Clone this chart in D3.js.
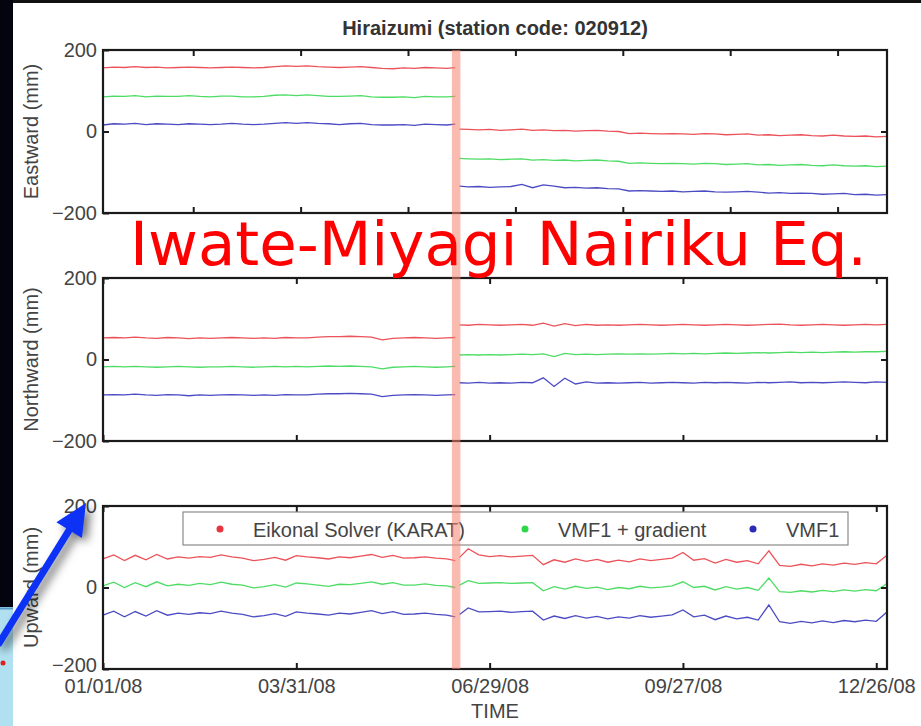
<!DOCTYPE html>
<html>
<head>
<meta charset="utf-8">
<script src="https://cdn.jsdelivr.net/npm/d3@7"></script>
<style>
  body { margin: 0; background: #fff; }
  svg text { font-family: "Liberation Sans", Arial, Helvetica, sans-serif; }
</style>
</head>
<body>
<script>
"use strict";

// sample days, counted from 01/01/08; null values at day 165 break the lines at the quake
var days = [0,5,10,15,20,25,30,35,40,45,50,55,60,65,70,75,80,85,90,95,100,105,110,115,120,125,130,135,140,145,150,155,160,164,
    165,
    166,170,175,180,185,190,195,200,205,210,215,220,225,230,235,240,245,250,255,260,265,270,275,280,285,290,295,300,305,310,315,320,325,330,335,340,345,350,355,360,365];

var eastKarat = [156,158,157,159,157,158,156,157,158,157,156,157,158,157,156,157,159,161,160,161,159,158,157,158,159,157,155,154,156,155,157,156,155,157,
    null,
    6,5,4,5,3,4,6,3,4,2,3,1,2,3,1,0,-5,-4,-5,-6,-5,-6,-7,-5,-6,-8,-7,-6,-9,-8,-10,-9,-8,-10,-11,-9,-11,-12,-11,-13,-12];
var eastGrad = [85,87,86,88,85,87,86,86,88,86,85,87,87,85,85,86,89,90,88,90,88,86,86,87,88,85,84,84,85,83,86,85,85,86,
    null,
    -66,-67,-68,-67,-69,-68,-67,-70,-69,-71,-70,-72,-71,-70,-72,-73,-78,-77,-78,-79,-78,-79,-80,-78,-79,-81,-80,-79,-82,-81,-83,-82,-81,-83,-84,-82,-84,-85,-84,-86,-85];
var eastVmf1 = [16,19,18,20,17,19,18,17,19,18,17,18,20,18,17,18,20,22,20,22,20,19,17,19,20,17,16,16,17,15,18,17,16,18,
    null,
    -134,-136,-135,-137,-136,-135,-130,-138,-131,-134,-138,-137,-139,-138,-140,-141,-146,-145,-146,-147,-146,-148,-147,-146,-148,-149,-148,-147,-149,-151,-150,-152,-151,-152,-154,-153,-152,-155,-154,-156,-155];

var northKarat = [53,54,53,55,53,52,54,53,51,53,52,53,54,53,52,53,52,54,53,53,55,56,56,57,56,55,48,52,53,54,53,52,53,54,
    null,
    85,84,86,85,84,85,86,84,89,82,88,83,86,84,85,84,85,86,85,84,85,86,85,84,85,86,85,84,85,86,87,85,84,85,86,85,84,85,86,85,86];
var northGrad = [-18,-17,-18,-17,-18,-19,-18,-17,-18,-19,-18,-18,-17,-18,-19,-18,-17,-18,-17,-18,-17,-16,-17,-16,-17,-18,-23,-19,-18,-17,-18,-19,-18,-17,
    null,
    11,12,11,12,11,12,13,12,14,7,15,12,13,12,13,14,13,14,13,14,15,14,15,14,15,16,15,16,17,16,17,18,17,18,17,18,19,18,19,19,20];
var northVmf1 = [-87,-86,-87,-85,-87,-88,-86,-87,-89,-87,-88,-87,-86,-87,-88,-87,-88,-86,-87,-87,-85,-84,-84,-83,-84,-85,-91,-88,-87,-86,-87,-88,-87,-86,
    null,
    -57,-58,-56,-58,-57,-58,-56,-57,-45,-66,-46,-60,-55,-58,-57,-58,-57,-56,-58,-57,-56,-57,-58,-56,-57,-56,-57,-58,-56,-57,-56,-55,-57,-56,-57,-56,-55,-56,-57,-55,-56];

var upKarat = [70,80,66,79,68,81,70,75,72,76,74,80,75,72,66,69,74,67,78,75,73,70,75,73,77,81,74,79,72,73,75,72,70,66,
    null,
    74,95,80,76,78,75,77,79,56,68,62,70,64,69,62,67,63,70,66,69,72,86,67,71,60,69,62,66,58,90,54,52,57,53,58,55,60,57,61,58,79];
var upGrad = [4,13,0,12,2,14,4,8,5,10,7,13,8,6,-1,2,7,1,11,9,6,3,8,7,10,14,8,12,6,6,9,5,4,0,
    null,
    6,17,10,11,12,10,11,12,-8,2,-4,3,-2,1,-5,0,-3,3,-1,1,4,14,0,3,-6,2,-4,0,-7,23,-10,-12,-8,-11,-7,-10,-6,-9,-5,-8,10];
var upVmf1 = [-68,-58,-72,-59,-70,-57,-68,-63,-66,-62,-64,-58,-63,-66,-72,-69,-64,-71,-60,-63,-65,-68,-63,-65,-61,-57,-64,-59,-66,-65,-63,-66,-68,-72,
    null,
    -66,-50,-60,-59,-58,-61,-59,-58,-80,-70,-76,-69,-75,-71,-77,-72,-75,-69,-73,-70,-67,-55,-72,-68,-79,-70,-77,-73,-80,-43,-84,-88,-83,-87,-82,-86,-81,-84,-80,-83,-60];

var seriesNames = ["Eikonal Solver (KARAT)", "VMF1 + gradient", "VMF1"];
var seriesColors = ["#e8343c", "#2fd64a", "#2b2bb8"];
var panelLabels = ["Eastward (mm)", "Northward (mm)", "Upward (mm)"];
var yTicks = [-200, 0, 200];
var xTickLabels = ["01/01/08", "03/31/08", "06/29/08", "09/27/08", "12/26/08"];
var eastTickDays = [42, 92, 142, 192, 242, 292, 342];
var startDate = "01/01/08", endDate = "12/31/08", quakeDate = "06/14/08";
var chartTitle = "Hiraizumi (station code: 020912)";
var quakeName = "Iwate-Miyagi Nairiku Eq.";

var W = 921, H = 726;
var left = 103, right = 887, panelH = 163;
var panelTops = [50, 278, 506];

var parseDate = d3.utcParse("%m/%d/%y");
var start = parseDate(startDate);
var dayToDate = function(d) { return d3.utcDay.offset(start, d); };

var x = d3.scaleUtc().domain([start, parseDate(endDate)]).range([left, right]);

var svg = d3.select("body").append("svg")
    .attr("width", W)
    .attr("height", H);

var defs = svg.append("defs");
var shadow = defs.append("filter").attr("id", "shadow")
    .attr("x", "-50%").attr("y", "-50%").attr("width", "200%").attr("height", "200%");
shadow.append("feDropShadow")
    .attr("dx", 5).attr("dy", 4).attr("stdDeviation", 5)
    .attr("flood-color", "#000").attr("flood-opacity", 0.55);

svg.append("rect").attr("width", W).attr("height", H).attr("fill", "#fff");

// slide background peeking in on the left edge
svg.append("rect").attr("x", 0).attr("y", 0).attr("width", W).attr("height", 3).attr("fill", "#111");
svg.append("rect").attr("x", 0).attr("y", 0).attr("width", 13).attr("height", 607).attr("fill", "#03040e");
svg.append("rect").attr("x", 0).attr("y", 607).attr("width", 13).attr("height", H - 607).attr("fill", "#b1e1f1");
svg.append("line").attr("x1", 0).attr("x2", 13).attr("y1", 608.5).attr("y2", 608.5)
    .attr("stroke", "#5a9cc8").attr("stroke-width", 2);
svg.append("circle").attr("cx", 3).attr("cy", 663).attr("r", 2.5).attr("fill", "#e02020");

var panels = [
    {label: panelLabels[0], series: [eastKarat, eastGrad, eastVmf1], ticks: eastTickDays.map(dayToDate)},
    {label: panelLabels[1], series: [northKarat, northGrad, northVmf1], ticks: xTickLabels.map(parseDate)},
    {label: panelLabels[2], series: [upKarat, upGrad, upVmf1], ticks: xTickLabels.map(parseDate)}
];

var styleText = function(sel) {
    sel.selectAll("text").style("font-size", "20px").style("fill", "#444");
};

panels.forEach(function(p, i) {
    var top = panelTops[i];
    var y = d3.scaleLinear().domain([-200, 200]).range([top + panelH, top]);
    var g = svg.append("g");

    var line = d3.line()
        .defined(function(d) { return d.v != null; })
        .x(function(d) { return x(d.date); })
        .y(function(d) { return y(d.v); });

    p.series.forEach(function(vals, k) {
        var pts = days.map(function(d, j) { return {date: dayToDate(d), v: vals[j]}; });
        g.append("path")
            .datum(pts)
            .attr("d", line)
            .attr("fill", "none")
            .attr("stroke", seriesColors[k])
            .attr("stroke-width", 1.3)
            .attr("stroke-opacity", 0.85);
    });

    // axes, ticks pointing inward like matlab
    var ax = g.append("g").attr("transform", "translate(" + left + ",0)")
        .call(d3.axisLeft(y).tickValues(yTicks).tickSizeInner(-6).tickSizeOuter(0).tickPadding(6));
    ax.select(".domain").remove();
    styleText(ax);
    if (i == 2) {
        // bottom label sits a bit higher so it clears the first date
        ax.selectAll(".tick text").filter(function(d) { return d == -200; }).attr("dy", "0.1em");
    }
    g.append("g").attr("transform", "translate(" + right + ",0)")
        .call(d3.axisRight(y).tickValues([0]).tickSizeInner(-6).tickSizeOuter(0).tickFormat(""))
        .select(".domain").remove();
    g.append("g").attr("transform", "translate(0," + top + ")")
        .call(d3.axisTop(x).tickValues(p.ticks).tickSizeInner(-6).tickSizeOuter(0).tickFormat(""))
        .select(".domain").remove();
    var bx = g.append("g").attr("transform", "translate(0," + (top + panelH) + ")")
        .call(d3.axisBottom(x).tickValues(p.ticks).tickSizeInner(-6).tickSizeOuter(0).tickPadding(10)
            .tickFormat(i == 2 ? d3.utcFormat("%m/%d/%y") : ""));
    bx.select(".domain").remove();
    styleText(bx);
    g.selectAll(".tick line").attr("stroke", "#1a1a1a").attr("stroke-width", 2);

    g.append("rect")
        .attr("x", left).attr("y", top)
        .attr("width", right - left).attr("height", panelH)
        .attr("fill", "none").attr("stroke", "#1a1a1a").attr("stroke-width", 2.2);

    g.append("text")
        .attr("transform", "translate(38," + (top + panelH / 2) + ") rotate(-90)")
        .attr("text-anchor", "middle")
        .style("font-size", "20px").style("fill", "#444")
        .text(p.label);
});

// legend in the upward panel
var lg = svg.append("g").attr("transform", "translate(183,512)");
lg.append("rect").attr("width", 665).attr("height", 33)
    .attr("fill", "#fff").attr("stroke", "#8a8a8a").attr("stroke-width", 1.2);
var legendX = [37, 342, 570];
seriesNames.forEach(function(name, k) {
    lg.append("circle").attr("cx", legendX[k]).attr("cy", 17).attr("r", 3.5).attr("fill", seriesColors[k]);
    lg.append("text").attr("x", legendX[k] + 33).attr("y", 25)
        .style("font-size", "20px").style("fill", "#444")
        .text(name);
});

svg.append("text")
    .attr("x", (left + right) / 2).attr("y", 718)
    .attr("text-anchor", "middle")
    .style("font-size", "20px").style("fill", "#444")
    .text("TIME");

svg.append("text")
    .attr("x", 495).attr("y", 35)
    .attr("text-anchor", "middle")
    .style("font-size", "20px").style("font-weight", "bold").style("fill", "#333")
    .text(chartTitle);

// earthquake band
var qx = x(parseDate(quakeDate));
svg.append("rect")
    .attr("x", qx - 5.5).attr("y", panelTops[0])
    .attr("width", 8.5).attr("height", panelTops[2] + panelH - panelTops[0])
    .attr("fill", "#f4826f").attr("fill-opacity", 0.55);

svg.append("text")
    .attr("x", 130).attr("y", 265)
    .attr("textLength", 737).attr("lengthAdjust", "spacingAndGlyphs")
    .style("font-family", "'Comic Sans MS', 'DejaVu Sans', sans-serif")
    .style("font-size", "60px").style("fill", "#ff0000")
    .text(quakeName);

// blue arrow pointing at the 200 label
var S = [-2, 645], T = [86, 503];
var len = Math.hypot(T[0] - S[0], T[1] - S[1]);
var u = [(T[0] - S[0]) / len, (T[1] - S[1]) / len], n = [-u[1], u[0]];
var B = [T[0] - u[0] * 32, T[1] - u[1] * 32];
var pt = function(p, s) { return [p[0] + n[0] * s, p[1] + n[1] * s]; };
svg.append("polygon")
    .attr("points", [pt(S, 3.5), pt(B, 3.5), pt(B, 15), T, pt(B, -15), pt(B, -3.5), pt(S, -3.5)].join(" "))
    .attr("fill", "#0a32f5")
    .attr("filter", "url(#shadow)");
</script>
</body>
</html>
